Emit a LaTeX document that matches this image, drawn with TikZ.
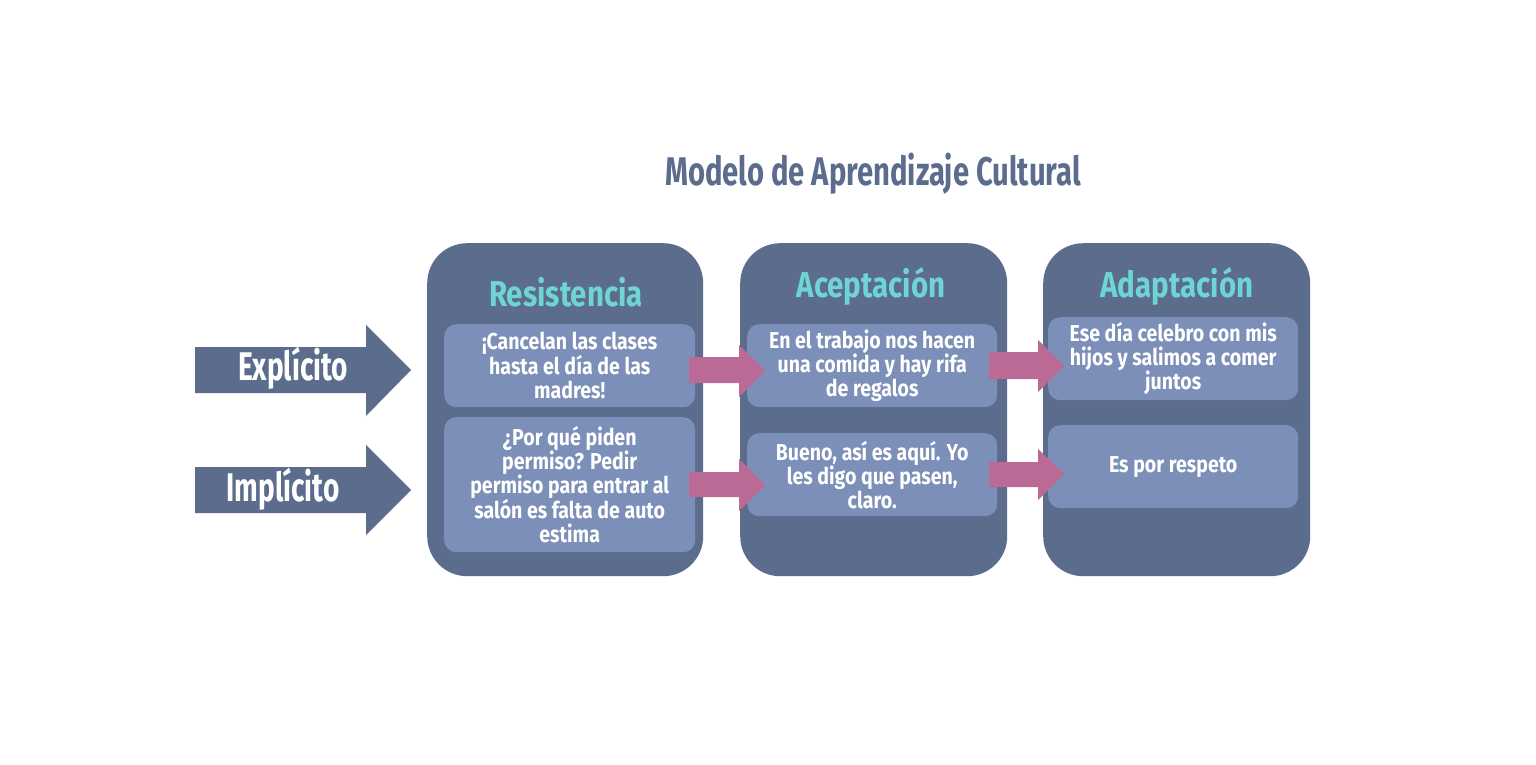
\documentclass[tikz,border=0pt]{standalone}
\usepackage{fontspec}
\newfontfamily\condbody{Fira Sans}[FakeStretch=0.85]
\newfontfamily\condtitle{Fira Sans}[FakeStretch=0.73]
\newfontfamily\condcol{Fira Sans}[FakeStretch=0.82]
\newfontfamily\condside{Fira Sans}[FakeStretch=0.70]
\definecolor{darkbox}{RGB}{91,108,140}
\definecolor{innerbox}{RGB}{123,143,184}
\definecolor{tealtxt}{RGB}{110,212,212}
\definecolor{pinkarr}{RGB}{186,106,149}
\tikzset{
  bigbox/.style={fill=darkbox, draw=none, rounded corners=40pt, anchor=north west, inner sep=0pt},
  innerbx/.style={fill=innerbox, draw=none, rounded corners=12pt, anchor=north west, inner sep=0pt},
  coltitle/.style={text=tealtxt, font=\condcol\bfseries\fontsize{36}{40}\selectfont},
  bodytxt/.style={text=white, align=center, font=\condbody\bfseries\fontsize{23}{24}\selectfont},
  sidetxt/.style={text=white, font=\condside\bfseries\fontsize{40}{44}\selectfont},
  pinkarrow/.style={fill=pinkarr, draw=none},
  sidearrow/.style={fill=darkbox, draw=none}
}
\begin{document}
\begin{tikzpicture}[x=1pt,y=-1pt]
\useasboundingbox (0,0) rectangle (1536,765);
\fill[white] (0,0) rectangle (1536,765);
% main title
\node[text=darkbox, font=\condtitle\bfseries\fontsize{40}{44}\selectfont] (title) at (873,174) {Modelo de Aprendizaje Cultural};
% columns
\node[bigbox, minimum width=276pt, minimum height=333pt] (c1) at (427,243) {};
\node[bigbox, minimum width=267pt, minimum height=333pt] (c2) at (740,243) {};
\node[bigbox, minimum width=267pt, minimum height=333pt] (c3) at (1043,243) {};
\node[coltitle] (t1) at (566,292) {Resistencia};
\node[coltitle] (t2) at (871,286) {Aceptación};
\node[coltitle] (t3) at (1177,286) {Adaptación};
% inner boxes
\node[innerbx, minimum width=251pt, minimum height=83pt] (b11) at (444,324) {};
\node[innerbx, minimum width=251pt, minimum height=135pt] (b12) at (444,417) {};
\node[innerbx, minimum width=250pt, minimum height=83pt] (b21) at (747,324) {};
\node[innerbx, minimum width=250pt, minimum height=83pt] (b22) at (747,433) {};
\node[innerbx, minimum width=250pt, minimum height=83pt] (b31) at (1048,317) {};
\node[innerbx, minimum width=250pt, minimum height=83pt] (b32) at (1048,425) {};
\node[bodytxt] (x11) at (b11.center) {¡Cancelan las clases\\hasta el día de las\\madres!};
\node[bodytxt] (x12) at (b12.center) {¿Por qué piden\\permiso? Pedir\\permiso para entrar al\\salón es falta de auto\\estima};
\node[bodytxt] (x21) at (b21.center) {En el trabajo nos hacen\\una comida y hay rifa\\de regalos};
\node[bodytxt] (x22) at (b22.center) {Bueno, así es aquí. Yo\\les digo que pasen,\\claro.};
\node[bodytxt] (x31) at (b31.center) {Ese día celebro con mis\\hijos y salimos a comer\\juntos};
\node[bodytxt] (x32) at (b32.center) {Es por respeto};
% pink arrows
\fill[pinkarrow] (689,357) -- (739,357) -- (739,345) -- (765,371) -- (739,397) -- (739,383) -- (689,383) -- cycle;
\fill[pinkarrow] (689,472) -- (739,472) -- (739,459) -- (765,485) -- (739,511) -- (739,497) -- (689,497) -- cycle;
\fill[pinkarrow] (989,352) -- (1038,352) -- (1038,340) -- (1064,366) -- (1038,392) -- (1038,379) -- (989,379) -- cycle;
\fill[pinkarrow] (989,462) -- (1038,462) -- (1038,449) -- (1064,474) -- (1038,500) -- (1038,487) -- (989,487) -- cycle;
% side arrows
\fill[sidearrow] (195,347) -- (366,347) -- (366,325) -- (411,370) -- (366,416) -- (366,393) -- (195,393) -- cycle;
\fill[sidearrow] (195,467) -- (366,467) -- (366,445) -- (411,490) -- (366,535) -- (366,513) -- (195,513) -- cycle;
\node[sidetxt] (exp) at (293,368) {Explícito};
\node[sidetxt] (imp) at (283,489) {Implícito};
\end{tikzpicture}
\end{document}
